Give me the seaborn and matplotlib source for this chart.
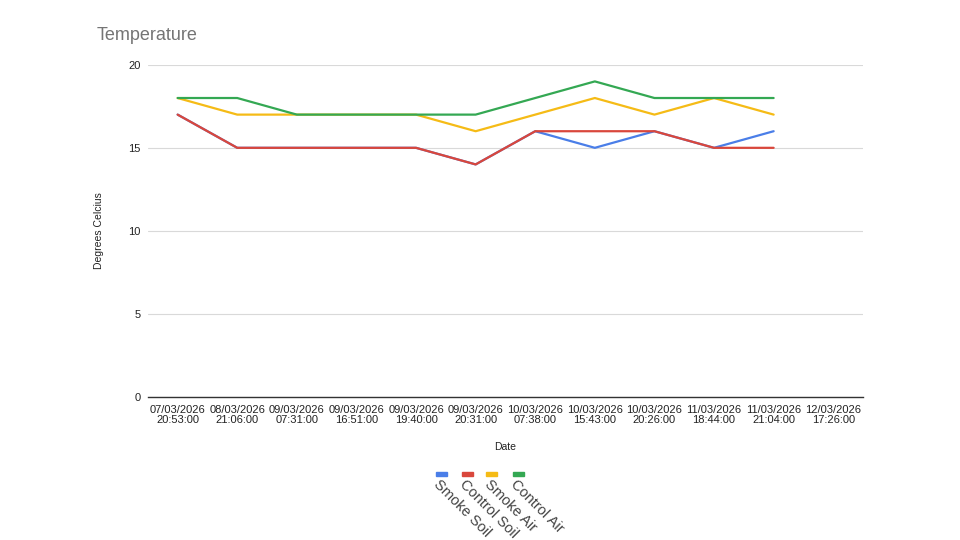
import pandas as pd
import numpy as np
import matplotlib
matplotlib.use('Agg')
import matplotlib.pyplot as plt
import seaborn as sns

dates = ['07/03/2026\n20:53:00', '08/03/2026\n21:06:00', '09/03/2026\n07:31:00',
         '09/03/2026\n16:51:00', '09/03/2026\n19:40:00', '09/03/2026\n20:31:00',
         '10/03/2026\n07:38:00', '10/03/2026\n15:43:00', '10/03/2026\n20:26:00',
         '11/03/2026\n18:44:00', '11/03/2026\n21:04:00', '12/03/2026\n17:26:00']

smoke_soil = [17, 15, 15, 15, 15, 14, 16, 15, 16, 15, 16]
control_soil = [17, 15, 15, 15, 15, 14, 16, 16, 16, 15, 15]
smoke_air = [18, 17, 17, 17, 17, 16, 17, 18, 17, 18, 17]
control_air = [18, 18, 17, 17, 17, 17, 18, 19, 18, 18, 18]

series_names = ['Smoke Soil', 'Control Soil', 'Smoke Air', 'Control Air']
pal = ['#4a7ee8', '#d9473c', '#f5bb16', '#34a853']

rows = []
for name, vals in zip(series_names, [smoke_soil, control_soil, smoke_air, control_air]):
    for i, v in enumerate(vals):
        rows.append({'idx': i, 'temp': v, 'series': name})
df = pd.DataFrame(rows)

sns.set_style('white')
plt.rcParams['font.family'] = ['Liberation Sans', 'DejaVu Sans']

fig = plt.figure(figsize=(9.6, 5.4), dpi=100)
ax = fig.add_axes([0.154, 0.265, 0.745, 0.615])

sns.lineplot(data=df, x='idx', y='temp', hue='series', hue_order=series_names,
             palette=dict(zip(series_names, pal)),
             linewidth=1.6, legend=False, ax=ax)

ax.set_xlim(-0.5, len(dates) - 0.5)
ax.set_ylim(0, 20)
ax.set_xticks(range(len(dates)))
ax.set_xticklabels(dates, fontsize=8, color='#222222', linespacing=1.0)
ax.set_yticks([0, 5, 10, 15, 20])
ax.set_yticklabels(['0', '5', '10', '15', '20'], fontsize=8, color='#222222')
ax.tick_params(axis='x', length=0, pad=6)
ax.tick_params(axis='y', length=0, pad=5)
ax.grid(axis='y', color='#d9d9d9', linewidth=0.8)
ax.set_axisbelow(True)
for s in ['top', 'right', 'left']:
    ax.spines[s].set_visible(False)
ax.spines['bottom'].set_color('#333333')
ax.spines['bottom'].set_linewidth(1.0)

ax.set_xlabel('Date', fontsize=7.5, color='#222222', labelpad=12)
ax.set_ylabel('Degrees Celcius', fontsize=7.5, color='#222222', labelpad=18)

fig.text(0.101, 0.925, 'Temperature', fontsize=13, color='#757575')

# legend: colored dashes with rotated labels
leg_x = [441, 467, 492, 518]
for x, name, c in zip(leg_x, series_names, pal):
    fig.patches.append(plt.Rectangle(((x - 5.5) / 960, 1 - 476 / 540), 11 / 960, 4 / 540,
                                     transform=fig.transFigure, color=c))
    fig.text(x / 960, 1 - 477 / 540, name, fontsize=10.5, color='#444444',
             rotation=-45, rotation_mode='anchor', ha='left', va='top')

plt.savefig('out.png', dpi=100)
